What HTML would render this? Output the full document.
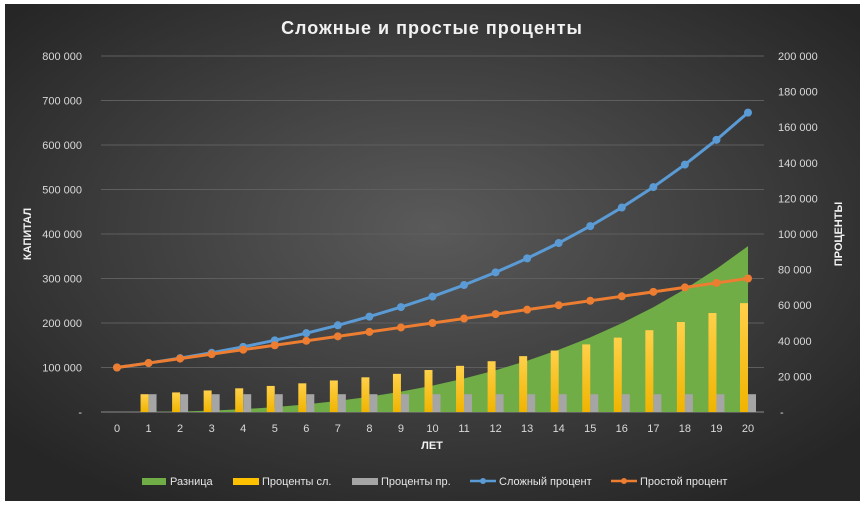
<!DOCTYPE html>
<html><head><meta charset="utf-8"><style>
html,body{margin:0;padding:0;background:#fff;width:865px;height:507px;overflow:hidden}
svg{display:block;font-family:"Liberation Sans","Noto Sans CJK SC",sans-serif}
</style></head><body>
<svg id="chart" width="865" height="507">
<defs>
<radialGradient id="bg" cx="50%" cy="45%" r="65%">
<stop offset="0" stop-color="#5a5a5a"/><stop offset="1" stop-color="#262626"/>
</radialGradient>
<linearGradient id="yg" x1="0" y1="0" x2="0" y2="1"><stop offset="0" stop-color="#ffd04a"/><stop offset="1" stop-color="#f0b400"/></linearGradient>
</defs>
<rect x="5" y="4" width="855" height="497" fill="url(#bg)"/>
<text x="432" y="34" text-anchor="middle" fill="#f2f2f2" font-size="18" font-weight="bold" letter-spacing="1">Сложные и простые проценты</text>
<text transform="translate(31,234) rotate(-90)" text-anchor="middle" fill="#f2f2f2" font-size="11" font-weight="bold">КАПИТАЛ</text>
<text transform="translate(842,234) rotate(-90)" text-anchor="middle" fill="#f2f2f2" font-size="11" font-weight="bold">ПРОЦЕНТЫ</text>
<text x="432" y="449" text-anchor="middle" fill="#f2f2f2" font-size="11" font-weight="bold">ЛЕТ</text>
<g id="grid"></g><g id="area"></g><g id="bars"></g><g id="lines"></g><g id="labels"></g>
<g id="legend" font-size="11" fill="#e6e6e6">
<rect x="142" y="478" width="24" height="7" fill="#70ad47"/>
<text x="170" y="485">Разница</text>
<rect x="233" y="478" width="26" height="7" fill="#ffc000"/>
<text x="262" y="485">Проценты сл.</text>
<rect x="352" y="478" width="26" height="7" fill="#a5a5a5"/>
<text x="381" y="485">Проценты пр.</text>
<line x1="470" y1="481" x2="496" y2="481" stroke="#5b9bd5" stroke-width="2.5"/>
<circle cx="483" cy="481" r="3" fill="#5b9bd5"/>
<text x="499" y="485">Сложный процент</text>
<line x1="611" y1="481" x2="637" y2="481" stroke="#ed7d31" stroke-width="2.5"/>
<circle cx="624" cy="481" r="3" fill="#ed7d31"/>
<text x="640" y="485">Простой процент</text>
</g>
</svg>
<script>
const years=["0","1","2","3","4","5","6","7","8","9","10","11","12","13","14","15","16","17","18","19","20"];
const compound=[100000,110000,121000,133100,146410,161051,177156,194872,214359,235795,259374,285312,313843,345227,379750,417725,459497,505447,555992,611591,672750];
const simple=[100000,110000,120000,130000,140000,150000,160000,170000,180000,190000,200000,210000,220000,230000,240000,250000,260000,270000,280000,290000,300000];
const difference=[0,0,1000,3100,6410,11051,17156,24872,34359,45795,59374,75312,93843,115227,139750,167725,199497,235447,275992,321591,372750];
const interestCompound=[0,10000,11000,12100,13310,14641,16105,17716,19487,21436,23579,25937,28531,31384,34523,37975,41772,45950,50545,55599,61159];
const interestSimple=[0,10000,10000,10000,10000,10000,10000,10000,10000,10000,10000,10000,10000,10000,10000,10000,10000,10000,10000,10000,10000];
const leftTicks=["-","100 000","200 000","300 000","400 000","500 000","600 000","700 000","800 000"];
const rightTicks=["-","20 000","40 000","60 000","80 000","100 000","120 000","140 000","160 000","180 000","200 000"];
const NS="http://www.w3.org/2000/svg";
const X0=117,X1=748,Y0=412,Y1=56,LMAX=800000,RMAX=200000;
const x=i=>X0+(X1-X0)*i/(years.length-1);
const yl=v=>Y0-(Y0-Y1)*v/LMAX;
const yr=v=>Y0-(Y0-Y1)*v/RMAX;
function mk(t,a,p){const e=document.createElementNS(NS,t);for(const k in a)e.setAttribute(k,a[k]);document.getElementById(p).appendChild(e);return e;}
leftTicks.forEach((t,i)=>{const y=yl(i*100000);
const g=mk('line',{x1:101,x2:764,y1:y,y2:y,stroke:i==0?'#8a8a8a':'#5e5e5e','stroke-width':1},'grid');


const tx=mk('text',{x:82,y:y+4,'text-anchor':'end',fill:'#d9d9d9','font-size':11},'labels');tx.textContent=t;

});
rightTicks.forEach((t,i)=>{const y=yr(i*20000);
const tx=mk('text',{x:t=="-"?780:778,y:y+4,fill:'#d9d9d9','font-size':11},'labels');tx.textContent=t;

});
years.forEach((t,i)=>{const tx=mk('text',{x:x(i),y:432,'text-anchor':'middle',fill:'#d9d9d9','font-size':11},'labels');tx.textContent=t;

});
let d='M'+x(0)+','+Y0;difference.forEach((v,i)=>d+=' L'+x(i)+','+yl(v));d+=' L'+x(years.length-1)+','+Y0+'Z';
const ar=mk('path',{d:d,fill:'#70ad47'},'area');


years.forEach((t,i)=>{
if(interestCompound[i]>0){const b=mk('rect',{x:x(i)-8,y:yr(interestCompound[i]),width:8,height:Y0-yr(interestCompound[i]),fill:'url(#yg)'},'bars');

}
if(interestSimple[i]>0){const b=mk('rect',{x:x(i),y:yr(interestSimple[i]),width:8,height:Y0-yr(interestSimple[i]),fill:'#a5a5a5'},'bars');

}});
[[compound,'#5b9bd5','compound-line'],[simple,'#ed7d31','simple-line']].forEach(([s,c,n])=>{
const p=mk('polyline',{points:s.map((v,i)=>x(i)+','+yl(v)).join(' '),fill:'none',stroke:c,'stroke-width':3,'stroke-linejoin':'round'},'lines');


s.forEach((v,i)=>{const m=mk('circle',{cx:x(i),cy:yl(v),r:4,fill:c},'lines');

});});
</script>
</body></html>
